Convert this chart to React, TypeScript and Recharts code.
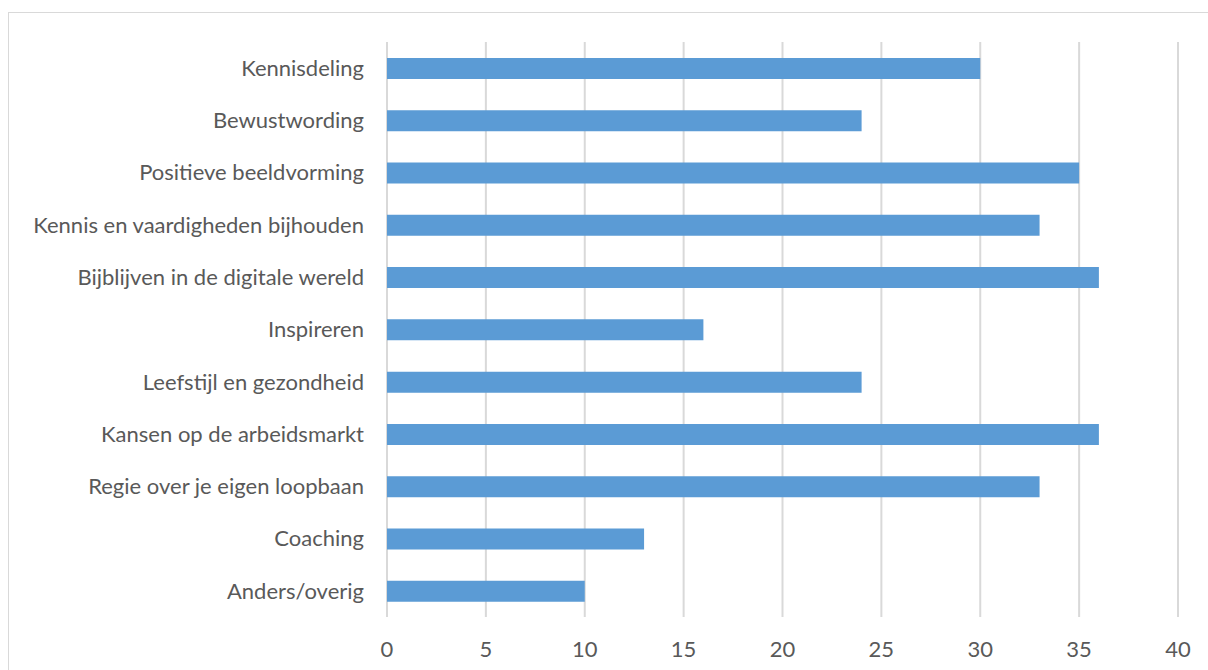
import React from "react";
import { BarChart, Bar, XAxis, YAxis, CartesianGrid } from "recharts";

const categories = [
  "Kennisdeling",
  "Bewustwording",
  "Positieve beeldvorming",
  "Kennis en vaardigheden bijhouden",
  "Bijblijven in de digitale wereld",
  "Inspireren",
  "Leefstijl en gezondheid",
  "Kansen op de arbeidsmarkt",
  "Regie over je eigen loopbaan",
  "Coaching",
  "Anders/overig",
];
const values = [30, 24, 35, 33, 36, 16, 24, 36, 33, 13, 10];
const xTicks = [0, 5, 10, 15, 20, 25, 30, 35, 40];

const data = categories.map((name, i) => ({ name, value: values[i] }));

const FONT = "Lato, 'Open Sans', sans-serif";

export default function App() {
  return (
    <div
      style={{
        position: "fixed",
        left: 0,
        top: 0,
        width: 1208,
        height: 670,
        background: "#fff",
        overflow: "hidden",
      }}
    >
      <div
        style={{
          position: "absolute",
          left: 8,
          top: 12,
          width: 1220,
          height: 700,
          borderTop: "1px solid #d9d9d9",
          borderLeft: "1px solid #d9d9d9",
        }}
      />
      <div style={{ position: "absolute", left: 0, top: 0 }}>
        <BarChart
          width={1208}
          height={670}
          data={data}
          layout="vertical"
          margin={{ top: 42, right: 30, bottom: 0, left: 0 }}
          barCategoryGap={0}
        >
          <CartesianGrid
            horizontal={false}
            vertical={true}
            stroke="#d9d9d9"
            strokeWidth={2}
          />
          <XAxis
            type="number"
            domain={[0, 40]}
            ticks={xTicks}
            interval={0}
            height={53}
            axisLine={false}
            tickLine={false}
            tickSize={0}
            tickMargin={24}
            tick={{ fill: "#595959", fontSize: 22, fontFamily: FONT }}
          />
          <YAxis
            type="category"
            dataKey="name"
            width={387}
            axisLine={false}
            tickLine={false}
            tickSize={0}
            tickMargin={23}
            interval={0}
            tick={{ fill: "#595959", fontSize: 22, fontFamily: FONT }}
          />
          <Bar
            dataKey="value"
            fill="#5b9bd5"
            barSize={21}
            isAnimationActive={false}
          />
        </BarChart>
      </div>
    </div>
  );
}
